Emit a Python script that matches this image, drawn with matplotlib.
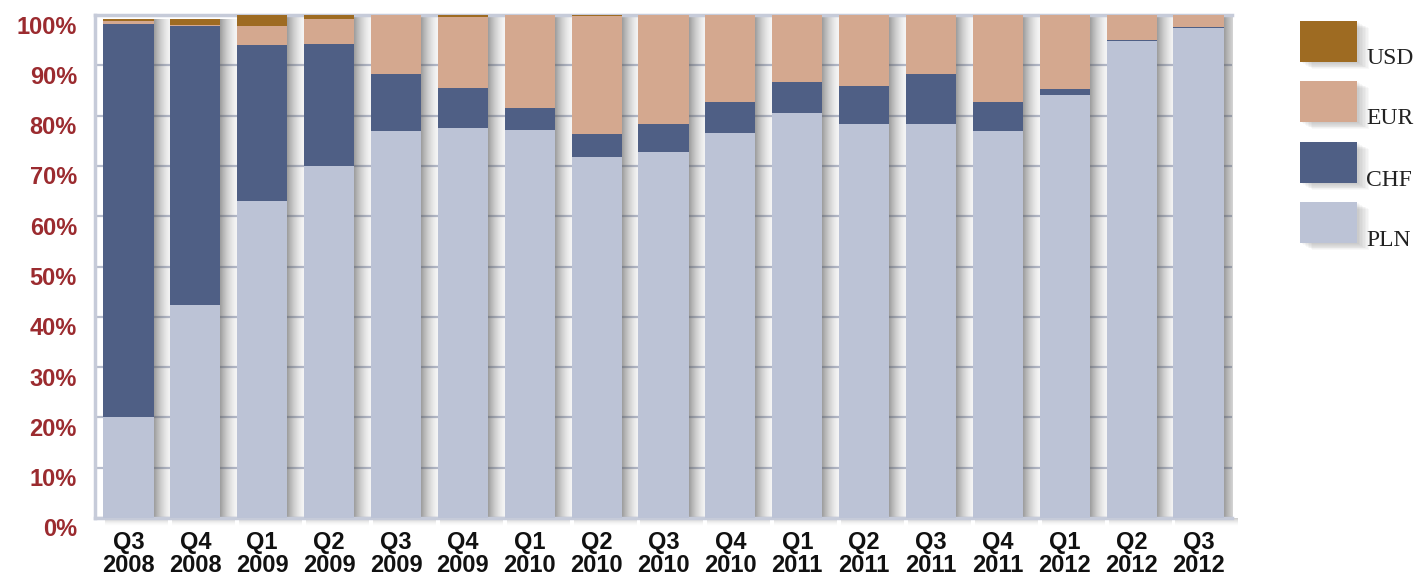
import numpy as np
import matplotlib.pyplot as plt
from matplotlib.patches import Rectangle
from matplotlib.transforms import ScaledTranslation

# Quarterly currency structure of new loans (share, %)
quarters = ["Q3\n2008", "Q4\n2008", "Q1\n2009", "Q2\n2009", "Q3\n2009", "Q4\n2009",
            "Q1\n2010", "Q2\n2010", "Q3\n2010", "Q4\n2010", "Q1\n2011", "Q2\n2011",
            "Q3\n2011", "Q4\n2011", "Q1\n2012", "Q2\n2012", "Q3\n2012"]
pln = [20.1, 42.3, 63.0, 70.0, 76.9, 77.5, 77.1, 71.8, 72.8, 76.5, 80.5, 78.3,
       78.3, 76.9, 84.1, 94.8, 97.5]
chf = [78.1, 55.6, 31.0, 24.2, 11.4, 8.0, 4.4, 4.5, 5.5, 6.2, 6.2, 7.6,
       10.0, 5.8, 1.2, 0.2, 0.2]
eur = [0.6, 0.1, 3.8, 5.0, 11.7, 14.2, 18.5, 23.5, 21.7, 17.3, 13.3, 14.1,
       11.7, 17.3, 14.7, 5.0, 2.3]
usd = [0.4, 1.2, 2.2, 0.8, 0.0, 0.3, 0.0, 0.2, 0.0, 0.0, 0.0, 0.0,
       0.0, 0.0, 0.0, 0.0, 0.0]
series_names = ["USD", "EUR", "CHF", "PLN"]
series_colors = {"USD": "#9e6b22", "EUR": "#d4a88f", "CHF": "#4f5f85", "PLN": "#bcc3d6"}
yticks = [0, 10, 20, 30, 40, 50, 60, 70, 80, 90, 100]

W, H, DPI = 1416, 576, 100
fig = plt.figure(figsize=(W / DPI, H / DPI), dpi=DPI)
ax = fig.add_axes([95 / W, 1 - 518 / H, (1232 - 95) / W, (518 - 15) / H])

x = np.arange(len(quarters))
bw = 0.75
px = 1 / 66.9     # one pixel in x data units
py = 100 / 503    # one pixel in y data units

pln_a, chf_a, eur_a, usd_a = map(np.array, (pln, chf, eur, usd))
totals = pln_a + chf_a + eur_a + usd_a

# soft shadow gradients: to the right of each column and just below it
n = 64
t = np.linspace(0, 1, n)
side = np.zeros((1, n, 4))
side[..., :3] = 0.33
side[0, :, 3] = 0.06 + 0.52 * (1 - t) ** 1.5
below = np.zeros((n, 1, 4))
below[..., :3] = 0.33
below[:, 0, 3] = 0.30 * (1 - t) ** 1.5
for xi, tot in zip(x, totals):
    ax.imshow(side, extent=[xi + bw / 2, xi + bw / 2 + 17 * px, 0, tot],
              aspect="auto", interpolation="bilinear", zorder=2)
    ax.imshow(below, extent=[xi - bw / 2 + 2 * px, xi + bw / 2 + 14 * px, -8 * py, 0],
              aspect="auto", interpolation="bilinear", zorder=2, clip_on=False)

bottom = np.zeros(len(x))
for name, vals in (("PLN", pln_a), ("CHF", chf_a), ("EUR", eur_a), ("USD", usd_a)):
    ax.bar(x, vals, bottom=bottom, width=bw, color=series_colors[name],
           linewidth=0, zorder=3)
    bottom += vals

ax.set_xlim(-0.5, 16.5)
ax.set_ylim(0, 100)
ax.set_yticks(yticks)
ax.set_yticklabels([f"{v}%" for v in yticks])
ax.set_xticks(x)
ax.set_xticklabels(quarters, linespacing=1.0)
ax.tick_params(axis="both", length=0)
ax.tick_params(axis="y", pad=13, labelsize=17, labelcolor="#9b2b2f")
ax.tick_params(axis="x", pad=9, labelsize=17, labelcolor="#111111")
shift = ScaledTranslation(0, -9.5 / DPI, fig.dpi_scale_trans)
for lbl in ax.get_yticklabels():
    lbl.set_transform(lbl.get_transform() + shift)
for lbl in ax.get_yticklabels() + ax.get_xticklabels():
    lbl.set_fontweight("bold")
    lbl.set_family("Liberation Sans")

ax.yaxis.grid(True, color="#b7bdcd", linewidth=1.6, zorder=1)
ax.set_axisbelow(True)
for s in ("left", "top", "bottom"):
    ax.spines[s].set_color("#c6cbd9")
    ax.spines[s].set_linewidth(2.5)
ax.spines["right"].set_visible(False)

# legend with shaded swatches
leg_tops = [21, 81, 142, 202]
for name, top in zip(series_names, leg_tops):
    for s in np.linspace(2, 12, 8):
        fig.patches.append(Rectangle(((1300 + s) / W, 1 - (top + 41 + s * 0.6) / H),
                                     57 / W, 41 / H, transform=fig.transFigure,
                                     facecolor="#505050", alpha=0.04, linewidth=0))
    fig.patches.append(Rectangle((1300 / W, 1 - (top + 41) / H), 57 / W, 41 / H,
                                 transform=fig.transFigure,
                                 facecolor=series_colors[name], linewidth=0))
    fig.text(1366 / W, 1 - (top + 38) / H, name, family="Liberation Serif",
             fontsize=17, color="#222222", ha="left", va="center")

fig.savefig("out.png", dpi=DPI)
